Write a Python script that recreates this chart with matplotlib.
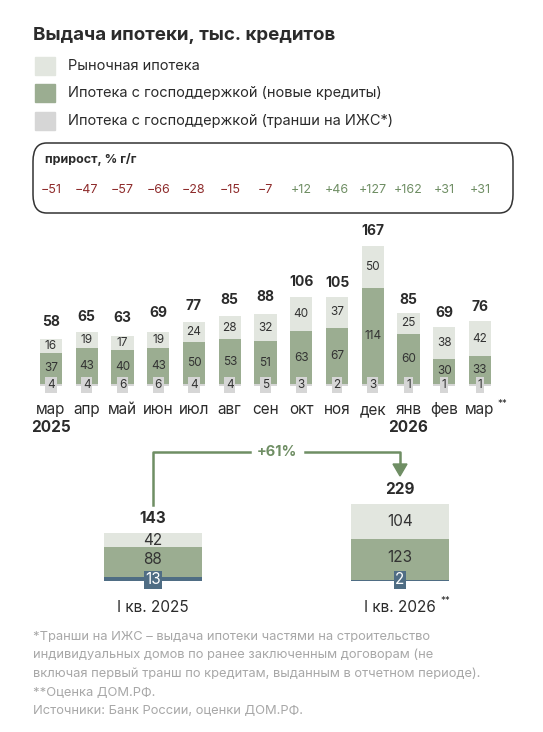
import matplotlib
matplotlib.use("Agg")
import matplotlib.pyplot as plt
from matplotlib.patches import FancyBboxPatch, Rectangle
import numpy as np

plt.rcParams['font.family'] = ['Inter', 'DejaVu Sans']

months = ["мар", "апр", "май", "июн", "июл", "авг", "сен", "окт", "ноя", "дек", "янв", "фев", "мар**"]
market = [16, 19, 17, 19, 24, 28, 32, 40, 37, 50, 25, 38, 42]
gov_new = [37, 43, 40, 43, 50, 53, 51, 63, 67, 114, 60, 30, 33]
izhs = [4, 4, 6, 6, 4, 4, 5, 3, 2, 3, 1, 1, 1]
totals = [58, 65, 63, 69, 77, 85, 88, 106, 105, 167, 85, 69, 76]
growth = [-51, -47, -57, -66, -28, -15, -7, 12, 46, 127, 162, 31, 31]

q_labels = ["I кв. 2025", "I кв. 2026**"]
q_market = [42, 104]
q_gov = [88, 123]
q_izhs = [13, 2]
q_totals = [143, 229]

C_MARKET = "#e2e6df"
C_GOV = "#9bad91"
C_IZHS = "#d6d6d6"
C_BLUE = "#4f6d84"
C_RED = "#8e2c2c"
C_GREEN = "#6f8e64"
C_TEXT = "#2b2b2b"
C_FOOT = "#a8a8a8"

W, H = 543, 732
fig = plt.figure(figsize=(W / 100, H / 100), dpi=100)
fig.patch.set_facecolor("white")


def fx(x):
    return x / W


def fy(y):
    return 1 - y / H


# title and legend
fig.text(fx(33), fy(35), "Выдача ипотеки, тыс. кредитов", fontsize=13.5, fontweight="bold",
         color=C_TEXT, va="center")
for y, c, lab in [(66, C_MARKET, "Рыночная ипотека"),
                  (93, C_GOV, "Ипотека с господдержкой (новые кредиты)"),
                  (121, C_IZHS, "Ипотека с господдержкой (транши на ИЖС*)")]:
    fig.patches.append(Rectangle((fx(35), fy(y + 9)), 20 / W, 18 / H, color=c,
                                 transform=fig.transFigure))
    fig.text(fx(68), fy(y), lab, fontsize=10.5, color=C_TEXT, va="center")

# growth box
fig.patches.append(FancyBboxPatch((fx(33), fy(213)), 480 / W, 70 / H,
                                  boxstyle="round,pad=0,rounding_size=0.025",
                                  fc="white", ec="#333333", lw=1.1,
                                  transform=fig.transFigure))
fig.text(fx(45), fy(160), "прирост, % г/г", fontsize=9, fontweight="bold", color=C_TEXT,
         va="center")

# monthly bars
x0, step = 51, 35.75
n = len(months)
ppu = 0.84
base = 384
ax = fig.add_axes([fx(x0 - step / 2), fy(base + 8 * ppu), n * step / W, 190 * ppu / H])
ax.set_xlim(-0.5, n - 0.5)
ax.set_ylim(-8, 182)
ax.axis("off")
x = np.arange(n)
bw = 0.62
ax.bar(x, gov_new, bw, bottom=0, color=C_GOV, lw=0)
ax.bar(x, market, bw, bottom=gov_new, color=C_MARKET, lw=0)
ax.bar(x, 2, bw, bottom=-2, color=C_IZHS, lw=0)
for i in range(n):
    ax.text(i, gov_new[i] / 2, str(gov_new[i]), ha="center", va="center", fontsize=8.5,
            color="#333333")
    ax.text(i, gov_new[i] + market[i] / 2, str(market[i]), ha="center", va="center",
            fontsize=8.5, color="#333333")
    ax.text(i, -1, str(izhs[i]), ha="center", va="center", fontsize=8.5, color="#333333",
            bbox=dict(boxstyle="square,pad=0.15", fc=C_IZHS, ec="none"))
    ax.text(i, totals[i] + 7, str(totals[i]), ha="center", va="bottom", fontsize=10,
            fontweight="bold", color=C_TEXT)
    px = x0 + i * step
    g = growth[i]
    fig.text(fx(px), fy(190), f"{g:+d}".replace("-", "\u2212"), ha="center", va="center",
             fontsize=9, color=C_RED if g < 0 else C_GREEN)
    fig.text(fx(px), fy(410), months[i].replace("**", ""), ha="center", va="center",
             fontsize=11, color=C_TEXT)
fig.text(fx(x0 + 12 * step + 17), fy(404), "**", fontsize=7, color=C_TEXT, ha="left",
         va="center")
fig.text(fx(x0), fy(428), "2025", ha="center", va="center", fontsize=11,
         fontweight="bold", color=C_TEXT)
fig.text(fx(x0 + 10 * step), fy(428), "2026", ha="center", va="center", fontsize=11,
         fontweight="bold", color=C_TEXT)

# quarterly bars
qppu = 0.336
qbase = 581
qx = [153, 400]
qax = fig.add_axes([fx(28), fy(qbase), 500 / W, 250 * qppu / H])
qax.set_xlim(28, 528)
qax.set_ylim(0, 250)
qax.axis("off")
qw = 98
qax.bar(qx, q_izhs, qw, color=C_BLUE, lw=0)
qax.bar(qx, q_gov, qw, bottom=q_izhs, color=C_GOV, lw=0)
qax.bar(qx, q_market, qw, bottom=np.add(q_izhs, q_gov), color=C_MARKET, lw=0)
for i in range(2):
    qax.text(qx[i], q_izhs[i] + q_gov[i] / 2 + 6, str(q_gov[i]), ha="center", va="center",
             fontsize=11, color="#333333")
    qax.text(qx[i], q_izhs[i] + q_gov[i] + q_market[i] / 2, str(q_market[i]), ha="center",
             va="center", fontsize=11, color="#333333")
    qax.text(qx[i], 3, str(q_izhs[i]), ha="center", va="center", fontsize=11, color="white",
             bbox=dict(boxstyle="square,pad=0.1", fc=C_BLUE, ec="none"))
    qax.text(qx[i], q_totals[i] + 20, str(q_totals[i]), ha="center", va="bottom",
             fontsize=11, fontweight="bold", color=C_TEXT)
    fig.text(fx(qx[i]), fy(607), q_labels[i].replace("**", ""), ha="center", va="center",
             fontsize=11, color=C_TEXT)
fig.text(fx(qx[1] + 40), fy(601), "**", fontsize=7, color=C_TEXT, va="center")

# growth arrow
fig.add_artist(plt.Line2D([fx(153), fx(153), fx(250)], [fy(505), fy(452), fy(452)],
                          color=C_GREEN, lw=1.8, transform=fig.transFigure))
fig.add_artist(plt.Line2D([fx(305), fx(400), fx(400)], [fy(452), fy(452), fy(465)],
                          color=C_GREEN, lw=1.8, transform=fig.transFigure))
fig.add_artist(plt.Polygon([[fx(393), fy(464)], [fx(407), fy(464)], [fx(400), fy(476)]],
                           color=C_GREEN, transform=fig.transFigure))
fig.text(fx(277), fy(452), "+61%", ha="center", va="center", fontsize=10.5,
         fontweight="bold", color=C_GREEN)

notes = ["*Транши на ИЖС – выдача ипотеки частями на строительство",
         "индивидуальных домов по ранее заключенным договорам (не",
         "включая первый транш по кредитам, выданным в отчетном периоде).",
         "**Оценка ДОМ.РФ.",
         "Источники: Банк России, оценки ДОМ.РФ."]
for k, line in enumerate(notes):
    fig.text(fx(33), fy(637 + k * 18.5), line, fontsize=9.3, color=C_FOOT, va="center")

fig.savefig("out.png", dpi=100)
